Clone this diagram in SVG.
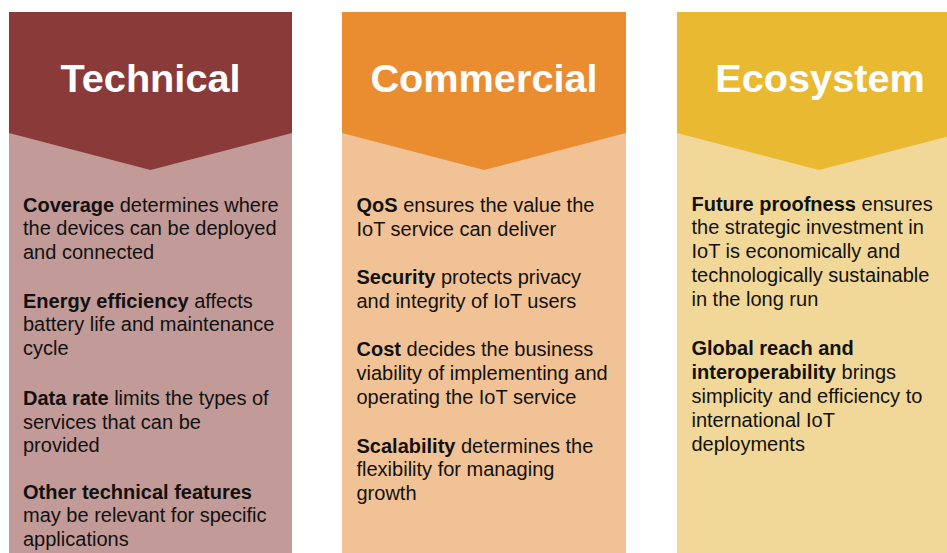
<svg xmlns="http://www.w3.org/2000/svg" width="947" height="553" viewBox="0 0 947 553">
<style>
.title{font-family:"Liberation Sans",Arial,sans-serif;font-weight:bold;font-size:39.7px;fill:#fff;text-anchor:middle}
.body{font-family:"Liberation Sans",Arial,sans-serif;font-size:20px;fill:#111}
.b{font-weight:bold}
</style>
<rect width="947" height="553" fill="#fff"/>
<g id="technical">
<rect x="9" y="12" width="283" height="541" fill="#C29A98"/>
<polygon points="9,12 292,12 292,133 150.5,170 9,133" fill="#8B3A3A"/>
<text class="title" x="150.5" y="92">Technical</text>
<text class="body">
<tspan x="23" y="211.5"><tspan class="b">Coverage</tspan> determines where</tspan>
<tspan x="23" y="235">the devices can be deployed</tspan>
<tspan x="23" y="258.5">and connected</tspan>
<tspan x="23" y="307.5"><tspan class="b">Energy efficiency</tspan> affects</tspan>
<tspan x="23" y="331">battery life and maintenance</tspan>
<tspan x="23" y="354.5">cycle</tspan>
<tspan x="23" y="405"><tspan class="b">Data rate</tspan> limits the types of</tspan>
<tspan x="23" y="428.5">services that can be</tspan>
<tspan x="23" y="452">provided</tspan>
<tspan x="23" y="498.5" class="b">Other technical features</tspan>
<tspan x="23" y="522">may be relevant for specific</tspan>
<tspan x="23" y="545.5">applications</tspan>
</text>
</g>
<g id="commercial">
<rect x="342" y="12" width="284" height="541" fill="#F1C295"/>
<polygon points="342,12 626,12 626,133 484,170 342,133" fill="#EA8C30"/>
<text class="title" x="484" y="92">Commercial</text>
<text class="body">
<tspan x="356.5" y="212"><tspan class="b">QoS</tspan> ensures the value the</tspan>
<tspan x="356.5" y="235.5">IoT service can deliver</tspan>
<tspan x="356.5" y="284"><tspan class="b">Security</tspan> protects privacy</tspan>
<tspan x="356.5" y="307.5">and integrity of IoT users</tspan>
<tspan x="356.5" y="356"><tspan class="b">Cost</tspan> decides the business</tspan>
<tspan x="356.5" y="380">viability of implementing and</tspan>
<tspan x="356.5" y="404">operating the IoT service</tspan>
<tspan x="356.5" y="452.5"><tspan class="b">Scalability</tspan> determines the</tspan>
<tspan x="356.5" y="476">flexibility for managing</tspan>
<tspan x="356.5" y="499.5">growth</tspan>
</text>
</g>
<g id="ecosystem">
<rect x="677" y="12" width="284" height="541" fill="#F1D898"/>
<polygon points="677,12 961,12 961,133 819,170 677,133" fill="#EAB932"/>
<text class="title" x="820" y="92">Ecosystem</text>
<text class="body">
<tspan x="691.5" y="210.5"><tspan class="b">Future proofness</tspan> ensures</tspan>
<tspan x="691.5" y="234">the strategic investment in</tspan>
<tspan x="691.5" y="258">IoT is economically and</tspan>
<tspan x="691.5" y="282">technologically sustainable</tspan>
<tspan x="691.5" y="306">in the long run</tspan>
<tspan x="691.5" y="355" class="b">Global reach and</tspan>
<tspan x="691.5" y="379"><tspan class="b">interoperability</tspan> brings</tspan>
<tspan x="691.5" y="403">simplicity and efficiency to</tspan>
<tspan x="691.5" y="427">international IoT</tspan>
<tspan x="691.5" y="451">deployments</tspan>
</text>
</g>
<g id="connectors"/>
</svg>
